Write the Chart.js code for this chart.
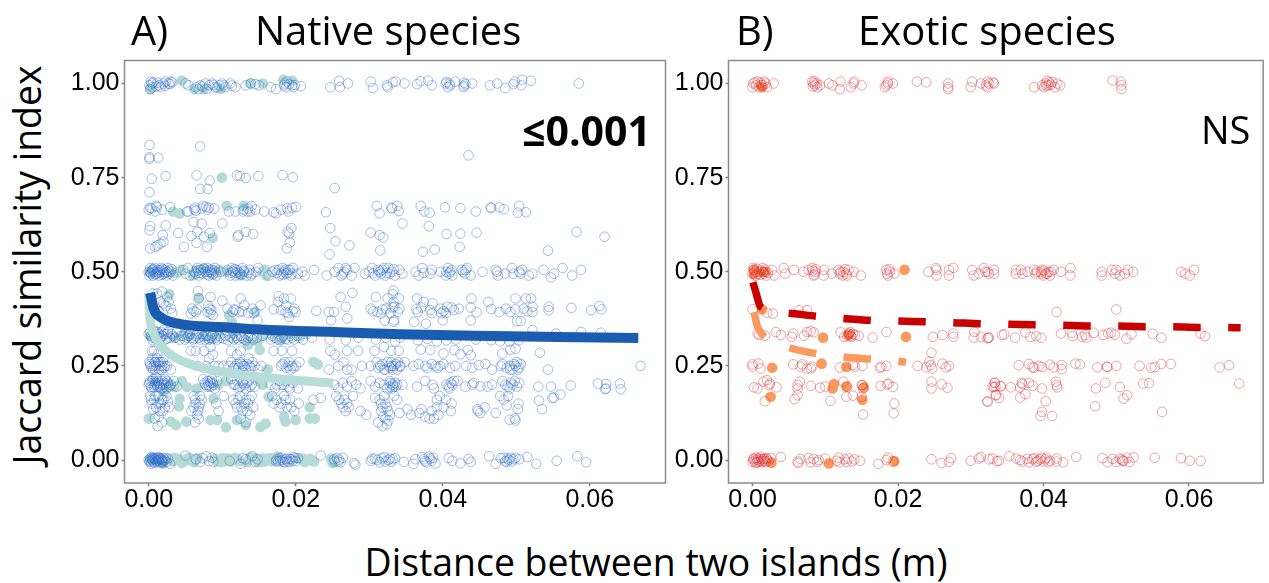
<!DOCTYPE html>
<html><head><meta charset="utf-8">
<script src="https://cdn.jsdelivr.net/npm/chart.js@4"></script>
<style>
html,body{margin:0;padding:0;background:#fff;width:1269px;height:583px;overflow:hidden}
canvas{position:absolute}
.t{position:absolute;white-space:nowrap;font-family:"Open Sans",sans-serif;color:#000;line-height:1}
</style></head><body>
<canvas id="a" width="616" height="470" style="left:60px;top:50px;width:616px;height:470px"></canvas>
<canvas id="b" width="605" height="470" style="left:664px;top:50px;width:605px;height:470px"></canvas>
<div class="t" style="left:131px;top:10px;font-size:40px">A)</div>
<div class="t" style="left:255px;top:10px;font-size:40px">Native species</div>
<div class="t" style="left:736px;top:10px;font-size:40px">B)</div>
<div class="t" style="left:858px;top:10px;font-size:40px">Exotic species</div>
<div class="t" style="left:522px;top:110px;font-size:41px;font-weight:700">≤0.001</div>
<div class="t" style="left:1201px;top:110px;font-size:38px">NS</div>
<div class="t" style="left:27px;top:265px;font-size:37.4px;transform:translate(-50%,-50%) rotate(-90deg)">Jaccard similarity index</div>
<div class="t" style="left:656px;top:562px;font-size:37.4px;transform:translate(-50%,-50%)">Distance between two islands (m)</div>
<script>
const xTicks=[0,.02,.04,.06];
const yTicks=[0,.25,.5,.75,1];

const nativeRow100=[[.0001,.995],[.0003,1.005],[.0005,.99],[.0002,.985],[.0004,1],[.0014,.995],[.0016,.99],[.002,1],[.0023,1.005],[.0027,1],[.003,1.005],[.0032,1.003],[.005,1],[.0054,.995],[.0064,.99],[.0068,.985],[.007,.995],[.0077,1],[.0082,.995],[.0086,1],[.009,.99],[.0096,.995],[.01,1],[.0102,.995],[.0111,1],[.0118,.99],[.0132,.995],[.0139,1],[.0145,.998],[.015,.995],[.0166,.99],[.0173,.985],[.0184,.995],[.0185,1],[.0188,1.005],[.0195,.995],[.0197,.99],[.0207,.993],[.0247,.99],[.0259,1.007],[.026,.99],[.0271,1],[.0302,1.005],[.0305,.988],[.0324,.995],[.0325,.99],[.0332,1.003],[.0336,1.005],[.0348,1],[.0365,.998],[.037,1.006],[.038,1.008],[.0385,.995],[.0404,1],[.0407,.99],[.041,.995],[.0417,1.005],[.0428,.99],[.0429,1.002],[.044,1],[.0464,.995],[.0474,1],[.0485,.988],[.0496,.998],[.0498,1.005],[.0508,1.01],[.0507,.995],[.052,1.007],[.0585,1],[.0006,1.003],[.001,.992],[.0012,1.002],[.0022,.994],[.0029,.998],[.0073,.992],[.0079,.986],[.0088,.996],[.0093,.989],[.0104,.99],[.0113,.994],[.0187,.99],[.0191,.998],[.0199,.996],[.0405,1.004],[.0409,1],[.0429,.994],[.0431,.998]];
const nativeHigh=[[.0001,.837],[.007,.833],[.0001,.804],[.0001,.8],[.0013,.803],[.0435,.809],[.0004,.747],[.0023,.754],[.0065,.756],[.0083,.742],[.012,.756],[.0124,.754],[.0132,.749],[.0149,.754],[.0182,.757],[.0196,.751],[.0001,.711],[.007,.72],[.008,.72],[.0253,.722]];
const nativeRow67=[[0,.665],[.0002,.67],[.001,.675],[.0011,.672],[.0018,.665],[.0029,.672],[.0052,.66],[.0054,.66],[.0062,.665],[.0063,.67],[.0074,.675],[.008,.665],[.0082,.67],[.0089,.668],[.0109,.66],[.0118,.66],[.0128,.66],[.0129,.665],[.0134,.66],[.0138,.66],[.014,.675],[.0145,.665],[.0157,.66],[.017,.658],[.0173,.655],[.018,.665],[.0188,.668],[.019,.66],[.0195,.67],[.02,.672],[.0241,.658],[.031,.675],[.0314,.655],[.033,.67],[.0331,.668],[.0338,.675],[.034,.661],[.037,.675],[.0375,.66],[.0382,.657],[.0403,.671],[.0424,.669],[.0445,.66],[.0465,.671],[.0466,.669],[.0477,.671],[.0483,.666],[.0504,.675],[.0502,.657],[.0513,.658],[.0004,.668],[.0009,.66],[.0064,.662],[.0072,.668],[.0078,.672],[.0135,.668]];
const nativeMid=[[.0002,.621],[.0001,.61],[.0023,.623],[.0019,.597],[.004,.603],[.0061,.632],[.0072,.628],[.01,.628],[.0066,.606],[.0058,.595],[.0083,.603],[.0075,.593],[.0065,.577],[.0079,.566],[.0048,.566],[.002,.58],[.0016,.575],[.0009,.566],[.0002,.562],[.0012,.57],[.0122,.597],[.0132,.606],[.0142,.6],[.0121,.593],[.0189,.606],[.0194,.616],[.0191,.601],[.0192,.578],[.0188,.562],[.0247,.616],[.0254,.581],[.0273,.57],[.0246,.546],[.0302,.604],[.0314,.597],[.0319,.591],[.0315,.557],[.0345,.628],[.0381,.621],[.0405,.6],[.0424,.601],[.0446,.604],[.0582,.606],[.062,.593],[.0373,.553],[.0389,.559],[.0423,.566],[.0543,.556]];
const nativeRow50=[[0,.5],[.0001,.49],[.0002,.51],[.0003,.495],[.0005,.505],[.0006,.49],[.0007,.5],[.0008,.51],[.001,.495],[.0012,.505],[.0014,.49],[.0015,.5],[.0017,.51],[.002,.495],[.0022,.505],[.0024,.49],[.0025,.5],[.0026,.51],[.0027,.495],[.003,.5],[.0033,.49],[.0047,.505],[.005,.495],[.0053,.51],[.0056,.49],[.0062,.5],[.0066,.51],[.0068,.49],[.0071,.505],[.0073,.495],[.0077,.5],[.008,.51],[.0082,.49],[.0084,.5],[.0086,.505],[.0088,.495],[.009,.51],[.0092,.49],[.0098,.5],[.0107,.505],[.0111,.49],[.0113,.51],[.0115,.5],[.0118,.49],[.012,.505],[.0124,.495],[.0127,.51],[.013,.5],[.0133,.49],[.0137,.505],[.0141,.495],[.0146,.5],[.0149,.51],[.0163,.49],[.0168,.5],[.0172,.505],[.0178,.49],[.0182,.51],[.0184,.5],[.0187,.495],[.019,.505],[.0193,.49],[.0196,.51],[.0203,.495],[.0209,.5],[.0212,.49],[.0225,.505],[.0242,.49],[.0253,.5],[.0258,.51],[.0262,.49],[.0266,.5],[.027,.505],[.0276,.49],[.028,.51],[.0294,.495],[.03,.5],[.0304,.51],[.0308,.49],[.0314,.5],[.0318,.505],[.0322,.49],[.0326,.51],[.0331,.5],[.0335,.49],[.0341,.505],[.0345,.495],[.0363,.5],[.0367,.49],[.0372,.51],[.0383,.495],[.0385,.505],[.0397,.5],[.0404,.49],[.0407,.51],[.041,.5],[.0413,.49],[.0426,.505],[.043,.495],[.0433,.51],[.0438,.49],[.0454,.5],[.0472,.505],[.0475,.49],[.0485,.495],[.0494,.51],[.0504,.5],[.0508,.505],[.0517,.49],[.0522,.495],[.0537,.505],[.0547,.485],[.0551,.495],[.0563,.51],[.0576,.49],[.0588,.505],
[.0002,.497],[.0004,.503],[.0006,.507],[.0009,.493],[.0011,.5],[.0013,.497],[.0016,.504],[.0018,.492],[.0019,.507],[.0021,.5],[.0023,.497],[.0028,.503],[.0031,.507],[.0064,.495],[.0067,.503],[.0069,.497],[.0075,.508],[.0079,.493],[.0081,.5],[.0083,.505],[.0085,.496],[.0087,.492],[.0089,.503],[.0091,.498],[.0112,.497],[.0114,.503],[.0117,.507],[.0119,.497],[.0122,.5],[.0126,.492],[.0129,.503],[.0136,.497],[.0139,.49],[.0174,.497],[.0177,.505],[.018,.495],[.0183,.492],[.0186,.505],[.0189,.497],[.0192,.505],[.0195,.495],[.0264,.494],[.0268,.51],[.0305,.496],[.0312,.505],[.0316,.495],[.032,.51],[.0324,.497],[.0328,.495],[.0333,.507],[.0374,.497],[.0405,.5],[.0409,.495],[.0412,.505],[.0428,.5],[.0431,.505],[.0474,.5],[.0496,.495],[.0506,.495]];
const nativeUpper=[[.0005,.442],[.0018,.447],[.0011,.442],[.0025,.433],[.002,.416],[.003,.402],[.0016,.42],[.0032,.39],[.0067,.449],[.0068,.429],[.0084,.433],[.01,.423],[.0059,.402],[.0064,.393],[.0057,.389],[.0083,.402],[.0084,.389],[.008,.393],[.0107,.402],[.0118,.398],[.0125,.429],[.013,.411],[.0141,.402],[.0152,.411],[.0123,.393],[.0114,.393],[.0148,.371],[.0177,.435],[.0184,.429],[.0193,.429],[.017,.4],[.018,.398],[.0186,.393],[.0198,.402],[.02,.393],[.0191,.38],[.0228,.396],[.0245,.393],[.0252,.393],[.0248,.371],[.0261,.433],[.0277,.444],[.0268,.407],[.027,.376],[.0302,.402],[.0309,.433],[.0325,.429],[.0323,.402],[.0334,.407],[.0339,.393],[.0311,.393],[.0316,.389],[.0334,.371],[.0321,.37],[.0333,.45],[.0332,.44],[.034,.429],[.0365,.429],[.0374,.42],[.0386,.416],[.0333,.42],[.0332,.405],[.0341,.402],[.0366,.393],[.0383,.398],[.0397,.402],[.0406,.407],[.0415,.398],[.0422,.402],[.0439,.429],[.0438,.405],[.0446,.392],[.0462,.42],[.0466,.401],[.0477,.393],[.0486,.402],[.0499,.429],[.0499,.4],[.051,.402],[.0513,.429],[.052,.429],[.0522,.407],[.0522,.393],[.0544,.407],[.0544,.398],[.0575,.404],[.0602,.398],[.0613,.409],[.0616,.4],[.0333,.367],[.0361,.367],[.0377,.362],[.04,.371],[.0438,.371],[.0501,.369],[.0506,.369],[.0522,.345],[.0588,.34],[.0615,.338],[.0554,.336],
[.0003,.43],[.0008,.41],[.0013,.395],[.0023,.41],[.0027,.42],[.0061,.395],[.0066,.4],[.0081,.41],[.0085,.398],[.0087,.385],[.0116,.4],[.0127,.395],[.0135,.39],[.0143,.39],[.0176,.42],[.0187,.41],[.0189,.39],[.0196,.395],[.0305,.395],[.0318,.4],[.0329,.39],[.0364,.4],[.0371,.405],[.0385,.39],[.0398,.39],[.0401,.395],[.0412,.405],[.0404,.39],[.0492,.393],[.0515,.395]];
const nativeRow33=[[0,.335],[.0002,.34],[.0004,.325],[.0006,.345],[.0008,.33],[.001,.32],[.0012,.34],[.0014,.335],[.0016,.325],[.0018,.33],[.002,.345],[.0022,.32],[.0024,.335],[.0026,.34],[.0029,.325],[.0033,.33],[.0038,.34],[.0042,.32],[.0047,.33],[.0052,.325],[.0056,.335],[.006,.32],[.0064,.33],[.0068,.325],[.0072,.335],[.0076,.32],[.008,.33],[.0084,.325],[.0088,.335],[.0093,.32],[.0098,.325],[.0104,.33],[.0108,.318],[.0113,.325],[.0118,.33],[.0122,.32],[.0127,.325],[.0132,.318],[.0137,.33],[.0142,.32],[.0147,.325],[.0155,.33],[.0166,.32],[.0172,.325],[.0178,.318],[.0183,.33],[.0189,.32],[.0195,.325],[.0202,.33],[.021,.32],[.0222,.325],[.0246,.32],[.0268,.318],[.0285,.325],[.0309,.32],[.0323,.325],[.0335,.315],[.0342,.325],[.0366,.318],[.0379,.322],[.0392,.315],[.0405,.318],[.0418,.32],[.0445,.32],[.0466,.318],[.0478,.315],[.0491,.315],[.0503,.318],
[.0003,.33],[.0005,.318],[.0007,.335],[.0009,.342],[.0011,.328],[.0015,.322],[.0017,.34],[.0019,.328],[.0021,.335],[.0025,.322],[.0031,.335],[.0036,.325],[.0044,.33],[.0049,.32],[.0054,.33],[.0058,.325],[.0062,.323],[.0066,.335],[.007,.32],[.0074,.328],[.0078,.33],[.0082,.32],[.0086,.33],[.0091,.325],[.0096,.33],[.0102,.322],[.011,.328],[.0116,.32],[.012,.325],[.0125,.33],[.013,.32],[.0135,.325],[.014,.325],[.0168,.33],[.0175,.32],[.0181,.325],[.0186,.322],[.0192,.33],[.0198,.32],[.0205,.325]];
const nativeRow25=[[.0001,.26],[.0003,.25],[.0005,.27],[.0006,.24],[.0008,.26],[.001,.25],[.0012,.28],[.0014,.24],[.0016,.26],[.0018,.25],[.002,.27],[.0022,.25],[.0004,.29],[.0007,.29],[.0009,.24],[.0013,.26],[.0025,.25],[.003,.24],[.0057,.29],[.0064,.29],[.0075,.29],[.0084,.3],[.0087,.28],[.0082,.27],[.0066,.25],[.0078,.25],[.0089,.25],[.0095,.25],[.0102,.25],[.0112,.29],[.012,.28],[.0125,.29],[.0136,.27],[.011,.25],[.0118,.25],[.0124,.26],[.0128,.25],[.0132,.24],[.0137,.25],[.0144,.25],[.0149,.24],[.0153,.25],[.017,.29],[.0181,.29],[.0195,.29],[.018,.25],[.0185,.26],[.019,.25],[.0193,.24],[.02,.25],[.0205,.26],[.0247,.29],[.0253,.28],[.027,.29],[.0285,.29],[.0245,.24],[.0258,.25],[.0265,.26],[.027,.24],[.0276,.24],[.029,.25],[.0302,.25],[.0307,.29],[.032,.3],[.033,.29],[.031,.26],[.0315,.25],[.0322,.24],[.0327,.25],[.033,.26],[.0334,.25],[.0338,.24],[.0342,.25],[.0348,.26],[.034,.29],[.037,.293],[.0383,.292],[.0401,.283],[.0416,.292],[.0424,.281],[.0434,.292],[.0438,.278],[.0481,.283],[.0492,.293],[.0499,.296],[.0532,.285],[.0331,.25],[.0342,.248],[.036,.25],[.0367,.255],[.0379,.245],[.039,.25],[.0401,.255],[.041,.245],[.0417,.25],[.0432,.25],[.044,.245],[.0449,.252],[.0458,.255],[.0467,.24],[.0479,.25],[.0481,.255],[.0495,.24],[.0499,.25],[.0504,.245],[.0506,.255],[.0543,.24],[.0669,.25],
[.0002,.255],[.0004,.245],[.0007,.25],[.0009,.26],[.0011,.27],[.0015,.25],[.0017,.24],[.0019,.26],[.0021,.245],[.0112,.26],[.0116,.245],[.012,.255],[.0122,.245],[.0126,.255],[.013,.25],[.0134,.255],[.0139,.245],[.0141,.26],[.0182,.255],[.0187,.245],[.0191,.26],[.0195,.25],[.0197,.245],[.0312,.245],[.0318,.255],[.032,.24],[.0325,.26],[.0329,.245],[.0332,.24],[.0336,.255],[.0339,.26],[.0376,.25],[.0385,.255],[.0393,.245],[.0396,.25],[.0487,.245],[.0491,.25],[.0497,.255],[.0501,.26],[.0492,.24],[.0502,.24]];
const nativeRow20=[[0,.2],[.0002,.21],[.0004,.19],[.0006,.215],[.0008,.2],[.001,.22],[.0012,.195],[.0014,.205],[.0016,.19],[.0018,.21],[.002,.2],[.0022,.215],[.0024,.19],[.0026,.205],[.0028,.195],[.003,.2],[.0034,.21],[.0038,.195],[.0074,.215],[.0077,.2],[.008,.21],[.0082,.195],[.0084,.205],[.0086,.215],[.0088,.2],[.009,.19],[.0093,.21],[.0112,.215],[.0116,.2],[.012,.21],[.0124,.195],[.0128,.205],[.0132,.19],[.0136,.21],[.014,.2],[.0144,.195],[.0166,.2],[.0172,.19],[.0178,.21],[.0184,.2],[.019,.195],[.0196,.205],[.0203,.19],[.0252,.2],[.0258,.19],[.0264,.205],[.027,.195],[.0276,.21],[.0282,.2],[.0288,.19],[.0302,.21],[.0308,.195],[.0314,.205],[.032,.2],[.0324,.19],[.0328,.21],[.0332,.2],[.0336,.195],[.0329,.204],[.0333,.195],[.0345,.2],[.0365,.195],[.0376,.21],[.0386,.2],[.0388,.19],[.0408,.195],[.0411,.205],[.042,.21],[.0431,.195],[.044,.2],[.0442,.205],[.0451,.196],[.0461,.195],[.0467,.2],[.0481,.21],[.0485,.2],[.0488,.195],[.0495,.2],[.0498,.21],[.053,.195],[.0547,.195],[.0574,.198],[.0611,.203],[.0621,.188],[.0622,.202],[.0641,.203],[.0622,.19],[.0642,.188],
[.0001,.205],[.0003,.195],[.0005,.21],[.0007,.195],[.0009,.205],[.0011,.2],[.0013,.21],[.0015,.195],[.0017,.2],[.0019,.19],[.0021,.205],[.0023,.2],[.0025,.21],[.0076,.205],[.0079,.195],[.0081,.2],[.0083,.21],[.0085,.195],[.0087,.205],[.0118,.2],[.0122,.19],[.0126,.21],[.013,.2],[.0134,.205],[.0138,.195],[.0174,.2],[.0181,.2],[.0187,.21],[.0192,.19],[.0328,.195],[.0331,.19],[.0335,.205],[.0338,.2],[.0405,.2],[.0409,.19],[.0413,.2],[.0415,.21],[.0491,.19],[.0493,.205],[.0501,.195],[.0504,.205]];
const nativeLow=[[.0002,.17],[.0004,.15],[.0007,.16],[.001,.14],[.0013,.17],[.0016,.15],[.0019,.13],[.002,.16],[.0024,.17],[.0028,.14],[.0008,.11],[.0012,.09],[.0014,.115],[.0018,.1],[.0058,.13],[.0061,.17],[.0064,.15],[.0066,.12],[.0068,.14],[.007,.17],[.0072,.16],[.0068,.11],[.0063,.1],[.0092,.15],[.0095,.13],[.0102,.17],[.0115,.16],[.012,.14],[.0124,.17],[.0128,.13],[.0132,.16],[.0135,.15],[.0138,.12],[.014,.17],[.0142,.14],[.0132,.1],[.0125,.11],[.0168,.17],[.0174,.16],[.018,.15],[.0184,.17],[.0188,.14],[.0192,.16],[.0198,.13],[.0204,.15],[.0224,.16],[.0234,.165],[.0255,.17],[.0262,.15],[.0266,.16],[.0272,.14],[.0278,.17],[.0268,.13],[.0288,.13],[.0296,.12],[.0308,.165],[.0316,.15],[.032,.17],[.0324,.14],[.0316,.13],[.0322,.11],[.0312,.1],[.0328,.12],[.0318,.09],[.0324,.095],[.0334,.17],[.0341,.125],[.0338,.16],[.0352,.135],[.0357,.12],[.0368,.125],[.0376,.115],[.0382,.11],[.0371,.135],[.0385,.13],[.0388,.11],[.0392,.14],[.0394,.12],[.0392,.16],[.0401,.14],[.0404,.16],[.0396,.17],[.0411,.13],[.0412,.15],[.0447,.135],[.0448,.13],[.0451,.125],[.0457,.14],[.0472,.125],[.0478,.17],[.0483,.16],[.0487,.145],[.0489,.17],[.0491,.107],[.0498,.11],[.0499,.105],[.0503,.15],[.0502,.135],[.0531,.158],[.0535,.135],[.0549,.165],[.0551,.166],[.056,.174],
[.0003,.16],[.0006,.135],[.0009,.17],[.0012,.15],[.0015,.13],[.0018,.16],[.0022,.14],[.0026,.155],[.0061,.14],[.0063,.16],[.0067,.13],[.0069,.15],[.0118,.15],[.0122,.16],[.0126,.14],[.013,.15],[.0134,.13],[.0137,.16],[.017,.15],[.0178,.14],[.0186,.16],[.0194,.14],[.0259,.16],[.0264,.14],[.027,.15],[.0314,.16],[.0318,.14],[.0322,.15],[.0326,.13],[.0319,.115],[.0326,.105]];
const nativeRow0=[[0,0],[.0001,-.005],[.0002,.005],[.0003,-.01],[.0004,.008],[.0005,0],[.0006,-.005],[.0007,.005],[.0008,-.008],[.0009,.002],[.001,.005],[.0011,-.005],[.0012,0],[.0013,.008],[.0014,-.003],[.0015,.005],[.0016,-.008],[.0017,.002],[.0018,0],[.0019,-.006],[.002,.005],[.0022,0],[.0024,-.005],[.0026,.004],[.0029,-.01],[.005,.012],[.0064,.002],[.007,-.005],[.0073,.005],[.0078,.01],[.0082,-.003],[.0086,.006],[.0088,-.005],[.011,-.002],[.0125,-.01],[.0128,.005],[.0132,.002],[.0141,.01],[.0145,-.005],[.0148,.002],[.0173,-.003],[.0178,.005],[.0182,0],[.0185,-.006],[.0188,.004],[.0191,-.005],[.0194,.002],[.0197,.008],[.02,-.003],[.0203,.005],[.0234,.012],[.0252,.002],[.0258,-.004],[.0264,.006],[.0279,-.008],[.0281,-.012],[.0302,-.002],[.0308,.004],[.0314,-.006],[.032,.008],[.0326,0],[.033,-.005],[.0335,.005],[.0347,-.005],[.036,-.01],[.0363,.002],[.0372,.008],[.0376,-.003],[.0381,.009],[.0385,-.002],[.039,-.009],[.0408,.005],[.0413,-.002],[.0424,-.009],[.0435,.003],[.0438,-.005],[.0463,.01],[.0472,-.01],[.0479,.005],[.0485,-.003],[.0488,.004],[.0494,-.004],[.0499,.006],[.0504,.002],[.0515,.008],[.0527,-.01],[.0555,-.002],[.0583,.01],[.0595,-.006],
[.0002,-.003],[.0004,.003],[.0006,.006],[.0008,.002],[.001,-.003],[.0012,.006],[.0014,.002],[.0016,.004],[.0018,-.004],[.002,-.002],[.0023,.005],[.0174,.002],[.0176,-.004],[.0179,-.002],[.0181,.006],[.0183,-.005],[.0186,.002],[.0189,-.003],[.0192,.003],[.0196,-.002],[.0199,.005],[.0253,-.004],[.0256,.005],[.0259,.001],[.0261,-.006],[.0304,.003],[.0311,0],[.0317,.004],[.0322,-.004],[.0328,.004],[.0332,.002],[.0374,.002],[.0378,-.006],[.0383,.004],[.0387,.006],[.0483,.006],[.0487,-.005],[.049,0],[.0492,.006],[.0496,.002]];
const nativeFilled=[[.0045,1.008],[.0002,.985],[.0062,.985],[.0075,.985],[.0098,.985],[.0138,1],[.0155,1],[.0183,1.01],[.0195,1.008],[.00995,.75],[.0033,.66],[.0042,.655],[.0106,.675],[.0129,.675],[.0087,.59],[.0002,.5],[.004,.5],[.006,.49],[.0075,.51],[.0105,.5],[.0155,.5],[.016,.49],[.0028,.44],[.0068,.43],[.0109,.385],[.0145,.394],[.0113,.367],[.0002,.33],[.0055,.33],[.0095,.335],[.0135,.315],[.0155,.33],[.018,.32],[.0205,.33],[.0151,.292],[.0135,.305],[.0162,.241],[.0224,.261],[.023,.254],[.0035,.194],[.0052,.194],[.0021,.181],[.0042,.163],[.0088,.163],[.0041,.142],[.0163,.168],[.0219,.14],[.0226,.11],[0,.11],[.003,.102],[.0037,.093],[.0051,.102],[.0084,.106],[.0093,.106],[.0105,.087],[.012,.106],[.0132,.093],[.0152,.088],[.0159,.097],[.0184,.115],[.0186,.102],[.02,.106],[.0219,.11],[.0002,.002],[.002,-.01],[.0035,.005],[.0045,-.008],[.0055,.006],[.0062,-.006],[.009,.003],[.0098,-.005],[.0105,.004],[.0117,.006],[.0125,-.003],[.0138,.008],[.0152,-.006],[.0165,.005],[.0175,.01],[.0205,.004],[.0212,-.006],[.0222,-.002],[.0248,.004],[.025,-.008],
[.003,.003],[.0033,-.003],[.0038,.004],[.0042,.002],[.0048,-.004],[.0052,.002],[.0058,-.002],[.0066,.005],[.0093,-.003],[.01,.005],[.0102,-.004],[.0108,.003],[.0112,-.004],[.012,.004],[.0134,-.006],[.0144,.005],[.0148,-.005],[.0155,.005],[.0158,-.004],[.0162,.004],[.0168,-.004],[.0171,.005],[.021,.004],[.0215,0],[.022,.003],[.0225,-.004],[.0036,.497],[.0044,.505],[.0065,.505],[.0095,.505],[.0125,.49],[.0158,.505],[.0005,.33],[.0035,.325],[.0048,.335],[.0075,.33],[.0085,.32],[.0115,.335],[.0148,.315],[.0168,.335],[.0192,.335],[.0215,.335],[.0008,.21],[.0028,.2],[.0045,.21],[.0065,.19],[.0095,.2],[.0105,.21],[.0152,.205],[.0155,.2]];
const nativeFit=[[.0002,.444],[.00065,.403],[.0018,.377],[.0043,.361],[.0097,.353],[.0165,.345],[.0251,.34],[.0342,.334],[.0442,.33],[.0555,.327],[.0666,.324]];
const nativeFilledFit=[[0,.444],[.0001,.39],[.00065,.337],[.0018,.3],[.0038,.27],[.0075,.244],[.012,.228],[.0165,.218],[.0251,.204]];

const exoticRow100=[[0,.99],[.0001,1],[.0005,.995],[.0007,1.005],[.0011,1.002],[.0014,.995],[.0018,1],[.002,.99],[.0029,1],[.0082,1.005],[.0084,1],[.0086,.995],[.0089,.99],[.0093,.995],[.0105,1],[.011,.995],[.0121,1.005],[.012,.985],[.0139,1],[.0135,.99],[.014,1.005],[.015,.995],[.0182,.99],[.0184,.995],[.0186,1],[.0186,1.005],[.0193,1],[.0226,1.005],[.0239,1.003],[.0269,1],[.0269,.99],[.0269,.985],[.03,.99],[.0302,1.005],[.0314,1],[.0321,.995],[.0323,.99],[.0332,1],[.0323,1.005],[.0325,1],[.0331,1.003],[.0387,.99],[.0398,.995],[.0403,1],[.0405,1.007],[.0407,.995],[.0412,1.004],[.0416,.99],[.0419,1],[.0423,.995],[.0495,1.008],[.0506,1.005],[.0507,.995],[.0507,.985],[.0003,1.003],[.0009,.99],[.0012,.996],[.0016,1.005],[.0083,.992],[.0085,1.006],[.0088,1],[.0401,.99],[.0404,.994],[.0408,1.003],[.041,.997]];
const exoticRow50=[[0,.495],[.0002,.505],[.0005,.49],[.0009,.5],[.0014,.51],[.0016,.495],[.0018,.5],[.0027,.505],[.003,.49],[.0043,.51],[.0045,.495],[.0057,.505],[.007,.5],[.0077,.505],[.0082,.51],[.0084,.49],[.0086,.5],[.0098,.505],[.0098,.49],[.0109,.495],[.0118,.505],[.012,.495],[.0125,.5],[.013,.49],[.0132,.505],[.0139,.5],[.0149,.49],[.0184,.505],[.0186,.49],[.0189,.5],[.0195,.495],[.0242,.5],[.0253,.505],[.0253,.49],[.0252,.51],[.027,.505],[.027,.49],[.0276,.51],[.0302,.505],[.0304,.49],[.0311,.495],[.0318,.51],[.032,.5],[.0332,.495],[.0323,.5],[.0325,.495],[.0332,.505],[.0362,.505],[.0362,.495],[.0369,.505],[.0371,.495],[.0378,.5],[.0387,.505],[.0389,.495],[.0391,.5],[.0396,.5],[.0398,.505],[.04,.49],[.0405,.495],[.041,.5],[.0414,.505],[.0424,.5],[.0437,.51],[.0437,.49],[.048,.5],[.048,.49],[.0494,.505],[.0498,.495],[.05,.505],[.0505,.49],[.0512,.495],[.0516,.505],[.0523,.5],[.0589,.5],[.0595,.495],[.0601,.49],[.0607,.505],[.0001,.51],[.0003,.49],[.0004,.5],[.0006,.508],[.0007,.495],[.0011,.492],[.0012,.503],[.0015,.5],[.0017,.506],[.0019,.49],[.0021,.497],[.0083,.503],[.0085,.493],[.0087,.507],[.0121,.5],[.0124,.49],[.0127,.507],[.0129,.495],[.0185,.495],[.0188,.507],[.0397,.495],[.0401,.503],[.0403,.495],[.0407,.5],[.0409,.49]];
const exoticRow33=[[.0418,.393],[.05,.4],[0,.4],[.002,.391],[.0028,.389],[.0064,.398],[.0075,.398],[.0007,.336],[.0009,.332],[.0017,.33],[.0032,.34],[.0039,.332],[.0054,.327],[.0056,.336],[.0071,.33],[.0075,.34],[.008,.342],[.0084,.339],[.0121,.339],[.0126,.327],[.0132,.336],[.0134,.34],[.0136,.327],[.0141,.332],[.0146,.33],[.0165,.325],[.0184,.34],[.0248,.327],[.0261,.332],[.0276,.336],[.0276,.327],[.0305,.34],[.0304,.325],[.0314,.327],[.0324,.325],[.0343,.332],[.0325,.325],[.0323,.323],[.0346,.334],[.0361,.325],[.0375,.339],[.0382,.327],[.039,.329],[.0397,.325],[.0424,.336],[.0439,.338],[.044,.329],[.0453,.327],[.0457,.332],[.0459,.325],[.0469,.338],[.0482,.332],[.0489,.336],[.0493,.338],[.0498,.333],[.0521,.334],[.0514,.322],[.055,.335],[.0562,.325],[.0616,.336],[.0622,.329],[.013,.33],[.0133,.335],[.0135,.33],[.0138,.335]];
const exoticRow25=[[0,.248],[0,.254],[.0008,.256],[.0011,.243],[.0056,.254],[.0066,.248],[.0068,.254],[.0075,.243],[.008,.243],[.0082,.248],[.012,.246],[.0138,.252],[.0141,.248],[.0151,.25],[.0175,.245],[.0177,.248],[.0184,.25],[.0227,.25],[.0239,.246],[.0243,.261],[.0245,.252],[.0247,.243],[.0261,.256],[.0266,.246],[.027,.25],[.0246,.285],[.0366,.252],[.038,.255],[.0385,.247],[.0387,.245],[.0394,.25],[.0398,.247],[.0409,.253],[.0414,.246],[.0425,.252],[.0425,.241],[.0444,.256],[.045,.254],[.0474,.246],[.0487,.248],[.0488,.247],[.05,.25],[.0532,.25],[.0548,.245],[.0553,.247],[.0562,.255],[.0575,.255],[.0642,.246],[.0655,.252]];
const exoticLow=[[.0002,.193],[.0007,.19],[.0015,.208],[.002,.212],[.0023,.199],[.0024,.203],[.0033,.193],[.0062,.199],[.0065,.208],[.0062,.19],[.008,.197],[.0093,.192],[.01,.195],[.0125,.208],[.013,.195],[.015,.199],[.0151,.199],[.0152,.19],[.0176,.197],[.0185,.201],[.0187,.203],[.0193,.194],[.0246,.208],[.0246,.19],[.026,.201],[.0268,.192],[.0333,.205],[.0332,.193],[.0341,.196],[.0017,.156],[.0062,.172],[.0058,.162],[.0107,.157],[.0129,.168],[.0138,.171],[.015,.168],[.0195,.15],[.0194,.124],[.0152,.121],[.0323,.156],[.0335,.172],[.0333,.205],[.033,.195],[.0334,.195],[.0341,.196],[.0355,.193],[.0368,.193],[.037,.205],[.0371,.202],[.038,.205],[.0385,.197],[.0398,.19],[.0417,.208],[.0418,.199],[.0419,.193],[.0472,.19],[.0485,.205],[.0505,.194],[.0537,.203],[.0545,.204],[.0669,.203],[.0334,.173],[.0339,.165],[.0368,.166],[.0375,.175],[.051,.163],[.0515,.172],[.0323,.155],[.0403,.156],[.0471,.143],[.0563,.128],[.0398,.128],[.0396,.117],[.0412,.117]];
const exoticRow0=[[0,-.005],[.0002,.004],[.0004,-.008],[.0005,.006],[.0007,0],[.0009,-.005],[.0011,.008],[.0014,-.002],[.0016,.004],[.0018,-.006],[.002,.002],[.0025,.005],[.0039,.008],[.0063,-.008],[.0066,.003],[.0062,-.004],[.0077,.005],[.008,-.006],[.0084,.003],[.0089,-.005],[.0091,0],[.01,.004],[.0116,-.002],[.0118,.006],[.012,-.006],[.0127,.002],[.0129,-.005],[.0132,.004],[.0137,-.004],[.014,.002],[.0148,-.002],[.0173,-.01],[.0184,0],[.0186,.006],[.0193,-.004],[.0246,.002],[.026,-.008],[.027,-.005],[.0273,.005],[.03,-.002],[.0311,.004],[.0314,.008],[.0325,.002],[.0336,-.003],[.033,.004],[.0339,-.002],[.0353,.01],[.0362,.004],[.0368,0],[.0371,-.004],[.0378,.003],[.038,-.006],[.0385,.002],[.039,-.005],[.0395,.002],[.04,-.004],[.0404,.006],[.0409,-.002],[.0418,-.004],[.0418,.004],[.0427,-.006],[.0445,.008],[.0481,.005],[.0488,-.006],[.0495,.003],[.05,-.005],[.0505,.004],[.051,-.003],[.0515,.006],[.0509,-.002],[.0518,-.005],[.0508,.001],[.0524,.007],[.0553,.006],[.0589,.005],[.0601,-.002],[.0616,-.002],[.0001,.002],[.0003,-.002],[.0006,-.006],[.0008,.004],[.001,-.002],[.0012,.003],[.0013,-.006],[.0015,.002],[.0017,-.003],[.0019,.005],[.0022,-.003],[.0387,.005],[.0392,-.002],[.0397,.006],[.0402,.002],[.0407,-.006]];
const exoticFilled=[[.0013,.99],[.0013,.4],[.0027,.245],[.0097,.325],[.0095,.256],[.0112,.202],[.011,.19],[.0129,.195],[.0129,.247],[.0153,.193],[.0151,.16],[.0025,.168],[.0132,.332],[.0211,.327],[.0026,-.007],[.0105,-.009],[.0195,-.003],[.0209,.505],[.0002,.505],[.0016,.5],[.0002,.495]];
const exoticFit=[[0,.476],[.0005,.443],[.0011,.407],[.0049,.39],[.0087,.382],[.0124,.376],[.0162,.371],[.0199,.369],[.0237,.367],[.0274,.365],[.0312,.362],[.0349,.361],[.0387,.359],[.0425,.358],[.0462,.356],[.05,.356],[.0538,.354],[.0575,.354],[.0613,.352],[.065,.352],[.0671,.351]];
const exoticFilledFit=[[.0002,.393],[.0007,.354],[.0015,.33],[.0051,.298],[.0087,.283],[.0124,.274],[.0161,.268],[.0198,.263],[.0211,.26]];

const pts=a=>a.map(p=>({x:p[0],y:p[1]}));
const frame={id:'frame',afterDatasetsDraw(c){const{ctx,chartArea:k}=c;ctx.save();ctx.strokeStyle='#8c8c8c';ctx.lineWidth=1.5;ctx.strokeRect(k.left,k.top,k.right-k.left,k.bottom-k.top);ctx.restore();}};
function panel(id,rows,filled,fit,filledFit,cOpen,cFilled,cFit,cFilledFit,dash,xMin,xMax,pad){
  const open={type:'scatter',data:pts(rows.flat()),showLine:false,order:2,pointRadius:4.8,pointBackgroundColor:'transparent',pointBorderColor:cOpen,pointBorderWidth:1};
  const fill={type:'scatter',data:pts(filled),showLine:false,order:3,pointRadius:5.3,pointBackgroundColor:cFilled,pointBorderWidth:0};
  const l1={type:'scatter',data:pts(fit),showLine:true,order:0,pointRadius:0,borderColor:cFit,borderWidth:dash?7.5:10,borderDash:dash||[],borderDashOffset:dash?-1.5:0,cubicInterpolationMode:'monotone',borderCapStyle:'butt'};
  const l2={type:'scatter',data:pts(filledFit),showLine:true,order:1,pointRadius:0,borderColor:cFilledFit,borderWidth:dash?7.5:9,borderDash:dash||[],cubicInterpolationMode:'monotone',borderCapStyle:'butt'};
  const font={family:'"Liberation Sans",Arial,sans-serif',size:25};
  const grid={drawOnChartArea:false,color:'#7f7f7f',tickLength:3,tickWidth:1.5};
  new Chart(document.getElementById(id),{type:'scatter',data:{datasets:[l1,l2,open,fill]},plugins:[frame],
    options:{responsive:false,animation:false,events:[],layout:{padding:pad},
      plugins:{legend:{display:false},tooltip:{enabled:false},title:{display:false}},
      scales:{
        x:{type:'linear',min:xMin,max:xMax,grid,border:{display:false},afterFit:s=>{s.height=37;s.paddingLeft=0;s.paddingRight=0},
           afterBuildTicks:s=>{s.ticks=xTicks.map(v=>({value:v}))},ticks:{color:'#000',padding:-1,font,autoSkip:false,maxRotation:0,callback:v=>v.toFixed(2)}},
        y:{type:'linear',min:-.061,max:1.061,grid,border:{display:false},afterFit:s=>{s.width=64.5;s.paddingTop=0;s.paddingBottom=0},
           afterBuildTicks:s=>{s.ticks=yTicks.map(v=>({value:v}))},ticks:{color:'#000',padding:2,font,autoSkip:false,callback:v=>v.toFixed(2)}}
      }}});
}
panel('a',[nativeRow100,nativeHigh,nativeRow67,nativeMid,nativeRow50,nativeUpper,nativeRow33,nativeRow25,nativeRow20,nativeLow,nativeRow0],nativeFilled,nativeFit,nativeFilledFit,
  'rgba(38,100,200,.42)','#b6dbd6','#1a5cb2','#b8dcd8',null,-.0033,.0703,{top:10.5,right:10.5,left:0,bottom:0});
panel('b',[exoticRow100,exoticRow50,exoticRow33,exoticRow25,exoticLow,exoticRow0],exoticFilled,exoticFit,exoticFilledFit,
  'rgba(214,40,48,.42)','#fb9a5e','#c90000','#fb9a60',[27.5,27.5],-.0033,.0702,{top:10.5,right:1,left:0,bottom:0});
</script>
</body></html>
